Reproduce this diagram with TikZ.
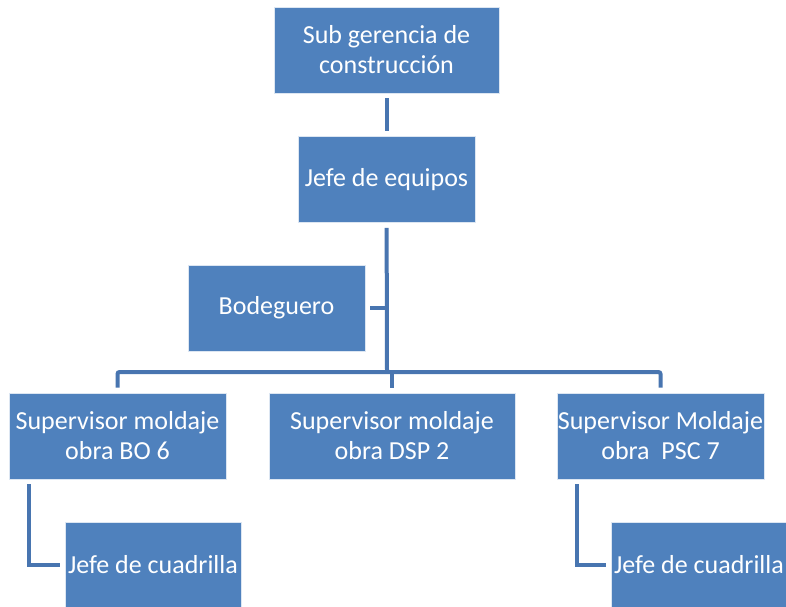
\documentclass[tikz,border=0pt]{standalone}
\usepackage{fontspec}
\setmainfont{Carlito}
\usetikzlibrary{positioning}
\definecolor{boxblue}{RGB}{79,129,189}
\definecolor{linkblue}{RGB}{72,117,176}

\begin{document}
\begin{tikzpicture}[x=1pt, y=-1pt]
\tikzstyle{box}=[draw=white!80!boxblue, line width=0.8pt, fill=boxblue, text=white, rectangle, align=center, inner sep=0pt, minimum height=86pt, font=\fontsize{26}{30}\selectfont]
\tikzstyle{conn}=[draw=linkblue, line width=4pt, shorten <=5pt, shorten >=5pt]

\useasboundingbox (0,0) rectangle (786,606);
\clip (0,0) rectangle (786,606);

\def \bus {372}
\def \row {436}
\def \low {565}

\node[box, minimum width=225pt]		(sub) at		(386.5,		50)		{Sub gerencia de\\construcción};
\node[box, minimum width=177pt]		(jefe) at		(386.5,		179.5)	{Jefe de equipos};
\node[box, minimum width=177pt]		(bod) at		(276.5,		308)	{Bodeguero};

\node[box, minimum width=217pt]		(sup1) at		(117.5,		\row)	{Supervisor moldaje\\obra BO 6};
\node[box, minimum width=246pt]		(sup2) at		(392,		\row)	{Supervisor moldaje\\obra DSP 2};
\node[box, minimum width=207pt]		(sup3) at		(660.5,		\row)	{Supervisor Moldaje\\obra\ \ PSC 7};

\node[box, minimum width=176pt]		(jc1) at		(153,		\low)	{Jefe de cuadrilla};
\node[box, minimum width=176pt]		(jc2) at		(699,		\low)	{Jefe de cuadrilla};

\coordinate (hub) at (387, \bus);

\path[conn] (sub) -- (jefe);
\path[conn, shorten >=0pt] (jefe) -- (hub);
\path[conn, shorten >=0pt] (bod) -- (bod -| hub);

\path[conn, rounded corners=2pt] (sup1) |- (hub) -| (sup3);
\path[conn, shorten <=0pt] (sup2 |- hub) -- (sup2);

\path[conn] ([xshift=20pt]sup1.south west) |- (jc1);
\path[conn] ([xshift=20pt]sup3.south west) |- (jc2);

\end{tikzpicture}
\end{document}
